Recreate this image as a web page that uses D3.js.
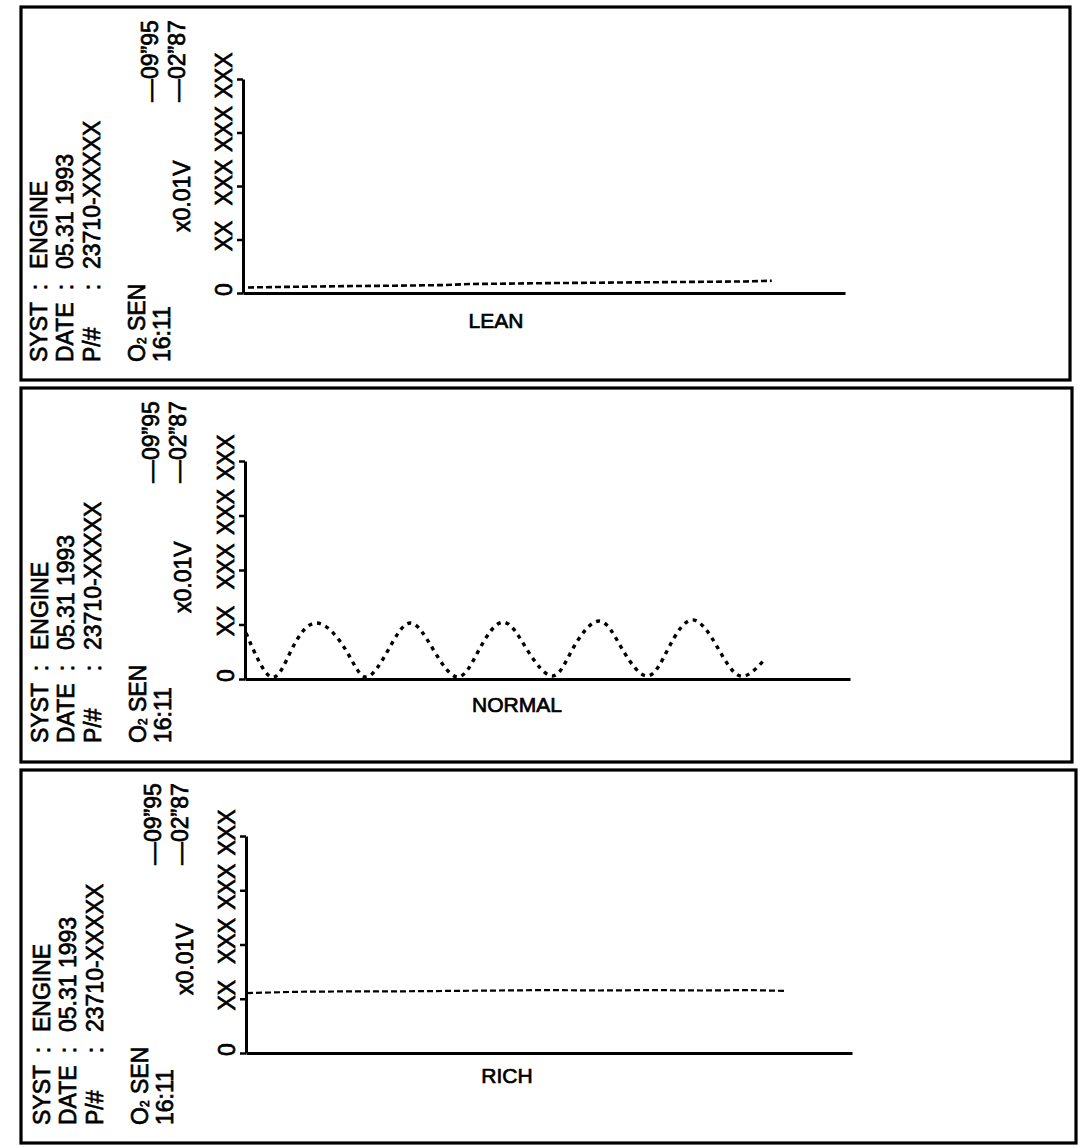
<!DOCTYPE html>
<html>
<head>
<meta charset="utf-8">
<script src="https://cdn.jsdelivr.net/npm/d3@7"></script>
<style>
  html, body { margin: 0; padding: 0; background: #fff; }
  svg { display: block; }
  text { font-family: "Liberation Sans", Arial, Helvetica, sans-serif; fill: #000; stroke: #000; stroke-width: 0.7px; }
</style>
</head>
<body>
<svg id="chart" width="1088" height="1148"></svg>
<script>
// ---------------- data ----------------
const panelNames = ["LEAN", "NORMAL", "RICH"];
const infoLabels = ["SYST", "DATE", "P/#"];
const infoValues = ["ENGINE", "05.31 1993", "23710-XXXXX"];
const sensorName = "O";
const sensorSub = "2";
const sensorTail = " SEN";
const timeLabel = "16:11";
const unitLabel = "x0.01V";
const versionLabels = ["\u201409\u201d95", "\u201402\u201d87"];
const yTickValues = [0, 25, 50, 75, 100];
const yTickLabels = ["0", "XX", "XXX", "XXX", "XXX"];
const xDomain = [0, 60];
const yDomain = [0, 100];

// LEAN : O2 sensor output stays near zero
const leanTime  = [0.5, 5, 10, 15, 20, 22.5, 25, 30, 35, 40, 45, 50, 52.7];
const leanValue = [2.6, 2.9, 3.2, 3.4, 3.7, 4.2, 4.3, 4.6, 4.8, 5.0, 5.2, 5.4, 5.7];

// NORMAL : oscillating output
const normalTime  = [0.1, 2.6, 4.6, 7.1, 10.0, 12.0, 14.2, 16.4, 18.7, 21.1, 23.2, 25.6, 28.0, 30.5, 32.5, 35.1, 37.4, 39.9, 42.0, 44.4, 46.9, 49.1, 51.4];
const normalValue = [21.1, 0.9, 13.3, 25.7, 13.3, 0.9, 13.3, 25.7, 13.3, 0.9, 13.3, 26.1, 13.3, 1.4, 13.8, 26.6, 13.8, 1.4, 14.2, 27.1, 14.2, 1.4, 8.3];

// RICH : output stays high
const richTime  = [0.1, 5, 10, 15, 20, 25, 30, 35, 40, 45, 50, 53.3];
const richValue = [27.6, 28.2, 28.4, 28.4, 28.6, 28.8, 29.0, 28.8, 29.0, 28.8, 29.0, 28.6];

const seriesTimes  = [leanTime, normalTime, richTime];
const seriesValues = [leanValue, normalValue, richValue];

// ---------------- layout (positions / styles) ----------------
const boxes = [
  {x: 21, y: 7,   w: 1049, h: 373},
  {x: 21, y: 388, w: 1051, h: 374},
  {x: 21, y: 770, w: 1055, h: 373}
];
const plots = [
  {x0: 243, x1: 845, y0: 293,  y1: 79},
  {x0: 245, x1: 850, y0: 679,  y1: 461},
  {x0: 246, x1: 852, y0: 1053, y1: 836}
];
const textShift = [0, 1, 3];
const bottomLabel = [
  {x: 496, y: 328},
  {x: 517, y: 712},
  {x: 507, y: 1083}
];
const lineStyles = [
  {w: 2.6, dash: "6 3", curve: d3.curveLinear},
  {w: 3.4, dash: "4 5", curve: d3.curveNatural},
  {w: 2.2, dash: "6 3", curve: d3.curveLinear}
];

const svg = d3.select("#chart");
svg.append("rect").attr("width", 1088).attr("height", 1148).attr("fill", "#fff");

function vtext(g, x, y, str, size, anchor) {
  return g.append("text")
    .attr("transform", `translate(${x},${y}) rotate(-90)`)
    .attr("font-size", size)
    .attr("text-anchor", anchor || "start")
    .text(str);
}

panelNames.forEach((name, i) => {
  const b = boxes[i], p = plots[i], dx = textShift[i];
  const g = svg.append("g");
  const top = b.y;

  // frame
  g.append("rect")
    .attr("x", b.x).attr("y", b.y).attr("width", b.w).attr("height", b.h)
    .attr("fill", "none").attr("stroke", "#000").attr("stroke-width", 3.2);

  // header text (rotated)
  const fs = 23;
  const labelCols = [47, 73, 100];
  infoLabels.forEach((lab, k) => {
    vtext(g, labelCols[k] + dx, top + 355, lab, fs);
    vtext(g, labelCols[k] + dx, top + 280, ":", fs, "middle");
    vtext(g, labelCols[k] + dx, top + 262, infoValues[k], fs);
  });
  const sen = vtext(g, 145 + dx, top + 355, "", fs);
  sen.append("tspan").text(sensorName);
  sen.append("tspan").attr("font-size", 12).attr("dy", 1).text(sensorSub);
  sen.append("tspan").attr("dy", -1).text(sensorTail);
  vtext(g, 170 + dx, top + 355, timeLabel, fs);
  vtext(g, 190 + dx, top + 225, unitLabel, fs);
  vtext(g, 158 + dx, top + 95, versionLabels[0], fs);
  vtext(g, 185 + dx, top + 95, versionLabels[1], fs);

  // scales
  const x = d3.scaleLinear().domain(xDomain).range([p.x0, p.x1]);
  const y = d3.scaleLinear().domain(yDomain).range([p.y0, p.y1]);

  // y axis
  const yAxis = d3.axisLeft(y)
    .tickValues(yTickValues)
    .tickFormat((d, k) => yTickLabels[k])
    .tickSize(6).tickSizeOuter(0);
  const ya = g.append("g").attr("transform", `translate(${p.x0},0)`).call(yAxis);
  ya.select(".domain").attr("stroke", "#000").attr("stroke-width", 3);
  ya.selectAll(".tick line").attr("stroke", "#000").attr("stroke-width", 2.5);
  ya.selectAll(".tick text")
    .attr("x", null).attr("dy", null)
    .attr("transform", "translate(-11,-4) rotate(-90)")
    .attr("text-anchor", "middle")
    .attr("font-size", fs)
    .attr("font-family", "Liberation Sans, Arial, sans-serif")
    .attr("fill", "#000");

  // x axis (baseline only)
  const xAxis = d3.axisBottom(x).tickValues([]).tickSizeOuter(0);
  const xa = g.append("g").attr("transform", `translate(0,${p.y0})`).call(xAxis);
  xa.select(".domain").attr("stroke", "#000").attr("stroke-width", 3);

  // series
  const data = seriesTimes[i].map((t, k) => ({t, v: seriesValues[i][k]}));
  const st = lineStyles[i];
  const line = d3.line().x(d => x(d.t)).y(d => y(d.v)).curve(st.curve);
  g.append("path")
    .datum(data)
    .attr("d", line)
    .attr("fill", "none")
    .attr("stroke", "#000")
    .attr("stroke-width", st.w)
    .attr("stroke-dasharray", st.dash);

  // panel name
  g.append("text")
    .attr("x", bottomLabel[i].x).attr("y", bottomLabel[i].y)
    .attr("text-anchor", "middle")
    .attr("font-size", 21)
    .text(name);
});
</script>
</body>
</html>
